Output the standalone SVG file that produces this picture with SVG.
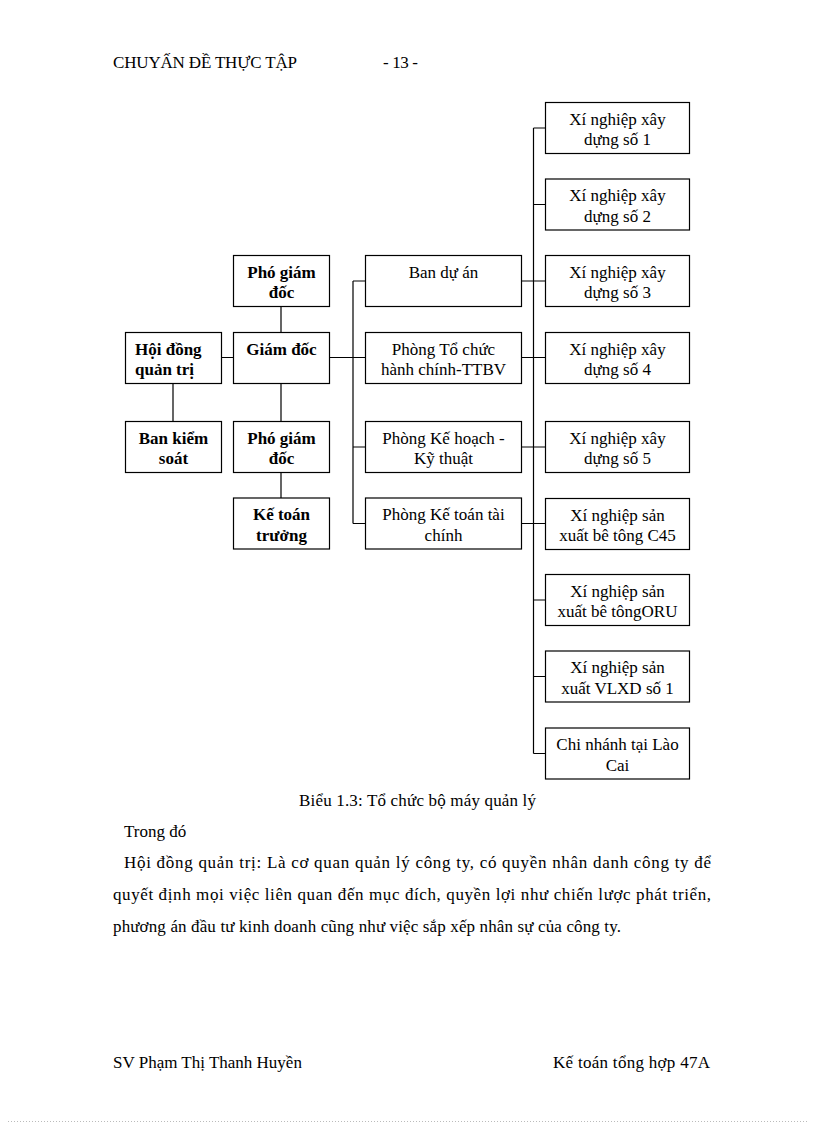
<svg xmlns="http://www.w3.org/2000/svg" width="816" height="1123" viewBox="0 0 816 1123">
<style>
.bx{fill:#fff;stroke:#000;stroke-width:1.2}
.t{font-family:"Liberation Serif","Times New Roman",serif;font-size:17px;fill:#000}
.b{font-weight:bold}
.c{text-anchor:middle}
.ln{stroke:#000;stroke-width:1.2;fill:none}
</style>
<rect width="816" height="1123" fill="#fff"/>
<text class="t" x="113" y="68" textLength="184" lengthAdjust="spacing">CHUYẤN  ĐỀ THỰC TẬP</text>
<text class="t" x="383" y="68" textLength="35" lengthAdjust="spacing">- 13 -</text>

<g id="connectors">
<path class="ln" d="M281 306.5V332.5M281 383.5V421.5M281 472.5V498M221 357.5H233M173 383.5V421.5M329 357.5H365M353 281V523.5M353 281H365M353 447H365M353 523.5H365M521 281H533.5M521 357.5H533.5M521 447H533.5M521 523.5H533.5M533.5 128V753.5M533.5 128H545M533.5 204.5H545M533.5 281H545M533.5 357.5H545M533.5 447H545M533.5 523.5H545M533.5 600H545M533.5 676.5H545M533.5 753.5H545"/>
</g>

<g id="hdqt"><rect class="bx" x="125.5" y="332.5" width="96" height="51"/><text class="t b" x="135" y="354.5">Hội đồng</text><text class="t b" x="135" y="375">quản trị</text></g>
<g id="bks"><rect class="bx" x="125.5" y="421.5" width="96" height="51"/><text class="t b c" x="173.5" y="443.5">Ban kiểm</text><text class="t b c" x="173.5" y="464">soát</text></g>
<g id="pgd1"><rect class="bx" x="233.5" y="255.5" width="96" height="51"/><text class="t b c" x="281.5" y="277.5">Phó giám</text><text class="t b c" x="281.5" y="298">đốc</text></g>
<g id="gd"><rect class="bx" x="233.5" y="332.5" width="96" height="51"/><text class="t b c" x="281.5" y="354.5">Giám đốc</text></g>
<g id="pgd2"><rect class="bx" x="233.5" y="421.5" width="96" height="51"/><text class="t b c" x="281.5" y="443.5">Phó giám</text><text class="t b c" x="281.5" y="464">đốc</text></g>
<g id="ktt"><rect class="bx" x="233.5" y="498" width="96" height="51"/><text class="t b c" x="281.5" y="520">Kế toán</text><text class="t b c" x="281.5" y="540.5">trưởng</text></g>

<g id="bda"><rect class="bx" x="365.5" y="255.5" width="156" height="51"/><text class="t c" x="443.5" y="277.5">Ban dự án</text></g>
<g id="ptc"><rect class="bx" x="365.5" y="332.5" width="156" height="51"/><text class="t c" x="443.5" y="354.5">Phòng Tổ chức</text><text class="t c" x="443.5" y="375">hành chính-TTBV</text></g>
<g id="pkh"><rect class="bx" x="365.5" y="421.5" width="156" height="51"/><text class="t c" x="443.5" y="443.5">Phòng Kế hoạch -</text><text class="t c" x="443.5" y="464">Kỹ thuật</text></g>
<g id="pkt"><rect class="bx" x="365.5" y="498" width="156" height="51"/><text class="t c" x="443.5" y="520">Phòng Kế toán tài</text><text class="t c" x="443.5" y="540.5">chính</text></g>

<g id="xn1"><rect class="bx" x="545.5" y="102.5" width="144" height="51"/><text class="t c" x="617.5" y="124.5">Xí nghiệp xây</text><text class="t c" x="617.5" y="145">dựng số 1</text></g>
<g id="xn2"><rect class="bx" x="545.5" y="179" width="144" height="51"/><text class="t c" x="617.5" y="201">Xí nghiệp xây</text><text class="t c" x="617.5" y="221.5">dựng số 2</text></g>
<g id="xn3"><rect class="bx" x="545.5" y="255.5" width="144" height="51"/><text class="t c" x="617.5" y="277.5">Xí nghiệp xây</text><text class="t c" x="617.5" y="298">dựng số 3</text></g>
<g id="xn4"><rect class="bx" x="545.5" y="332.5" width="144" height="51"/><text class="t c" x="617.5" y="354.5">Xí nghiệp xây</text><text class="t c" x="617.5" y="375">dựng số 4</text></g>
<g id="xn5"><rect class="bx" x="545.5" y="421.5" width="144" height="51"/><text class="t c" x="617.5" y="443.5">Xí nghiệp xây</text><text class="t c" x="617.5" y="464">dựng số 5</text></g>
<g id="c45"><rect class="bx" x="545.5" y="498.5" width="144" height="51"/><text class="t c" x="617.5" y="520.5">Xí nghiệp sản</text><text class="t c" x="617.5" y="541">xuất bê tông C45</text></g>
<g id="oru"><rect class="bx" x="545.5" y="574.5" width="144" height="51"/><text class="t c" x="617.5" y="596.5">Xí nghiệp sản</text><text class="t c" x="617.5" y="617">xuất bê tôngORU</text></g>
<g id="vlxd"><rect class="bx" x="545.5" y="651" width="144" height="51"/><text class="t c" x="617.5" y="673">Xí nghiệp sản</text><text class="t c" x="617.5" y="693.5">xuất VLXD  số 1</text></g>
<g id="laocai"><rect class="bx" x="545.5" y="728" width="144" height="51"/><text class="t c" x="617.5" y="750">Chi nhánh tại Lào</text><text class="t c" x="617.5" y="770.5">Cai</text></g>

<text class="t" x="299" y="806" textLength="237" lengthAdjust="spacing">Biểu 1.3: Tổ chức bộ máy quản lý</text>
<text class="t" x="124" y="837">Trong đó</text>
<text class="t" x="124" y="868" textLength="587" lengthAdjust="spacing">Hội đồng quản trị: Là cơ quan quản lý công ty, có quyền nhân danh công ty để</text>
<text class="t" x="113" y="900" textLength="598" lengthAdjust="spacing">quyết định mọi việc liên quan đến mục đích, quyền lợi như chiến lược phát triển,</text>
<text class="t" x="113" y="932" textLength="508" lengthAdjust="spacing">phương án đầu tư kinh doanh cũng như việc sắp xếp nhân sự của công ty.</text>

<text class="t" x="113" y="1068">SV Phạm Thị Thanh  Huyền</text>
<text class="t" x="553" y="1068" textLength="157" lengthAdjust="spacing">Kế toán tổng hợp 47A</text>
<line x1="8" y1="1121.5" x2="808" y2="1121.5" stroke="#bbb" stroke-width="1" stroke-dasharray="1 2"/>
</svg>
